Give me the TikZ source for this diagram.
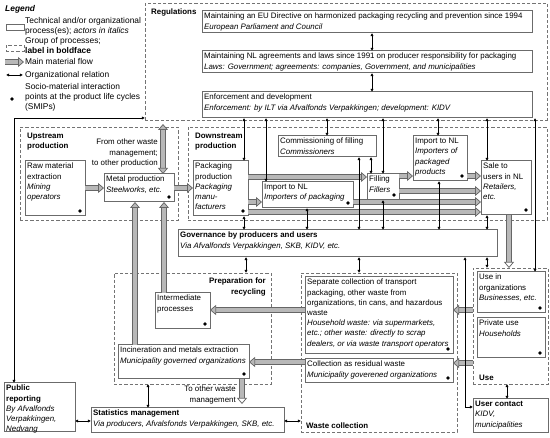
\documentclass[tikz,border=0pt]{standalone}
\usepackage{fontspec}
\setmainfont{Liberation Sans}
\usetikzlibrary{arrows.meta,calc}
\newcommand\fs{\fontsize{7.9}{10.2}\selectfont}
\newcommand\fsl{\fontsize{8.4}{10.2}\selectfont}
\tikzset{
 box/.style={draw=black!58, line width=1pt, inner sep=0pt, outer sep=0pt, fill=white},
 grp/.style={draw=black!55, line width=0.7pt, dash pattern=on 3.2pt off 2pt, inner sep=0pt, outer sep=0pt},
 txt/.style={inner xsep=2pt, inner ysep=2pt, align=left, font=\fs},
 ltxt/.style={inner xsep=2pt, inner ysep=2pt, align=left, font=\fsl},
 fattip/.tip={Triangle[length=6pt,width=10pt,fill=black!28]},
 opentip/.tip={Triangle[length=6pt,width=10pt,fill=white]},
 fat/.style={draw=black!60, line width=0.75pt, double=black!28, double distance=3.8pt, -fattip},
 orgtip/.tip={Latex[length=3.2pt,width=3.2pt]},
 org/.style={line width=0.55pt, orgtip-orgtip},
 smip/.style={fill=black}
}
\newcommand\bx[6]{\node[box,minimum width=#4,minimum height=#5,anchor=north west] (#1) at (#2,#3) {};
 \node[txt,anchor=north west] (#1-t) at (#1.north west) {#6};}
\newcommand\gp[5]{\node[grp,minimum width=#4,minimum height=#5,anchor=north west] (#1) at (#2,#3) {};}
\newcommand\dt[1]{\fill[smip] (#1.south east) ++(-5,-5) circle (1.9);}
\begin{document}
\begin{tikzpicture}[x=1pt,y=-1pt]
\useasboundingbox (0,0) rectangle (550,438);
% legend
\node[ltxt,anchor=north west,font=\fsl\bfseries\itshape] (leg) at (3,3) {Legend};
\node[box,minimum width=18,minimum height=6,anchor=north west] (legbox) at (6,25) {};
\node[ltxt,anchor=north west] (leg1) at (23,15) {Technical and/or organizational\\process(es); \textit{actors in italics}};
\node[grp,minimum width=18,minimum height=6,anchor=north west] (leggrp) at (6,45) {};
\node[ltxt,anchor=north west] (leg2) at (23,35) {Group of processes;\\\textbf{label in boldface}};
\coordinate (lfa) at (5,62); \coordinate (lfb) at (24,62);
\draw[fat] (lfa) -- (lfb);
\node[ltxt,anchor=west] (leg3) at (23,62) {Main material flow};
\coordinate (loa) at (6,75); \coordinate (lob) at (23,75);
\draw[org] (loa) -- (lob);
\node[ltxt,anchor=west] (leg4) at (23,75) {Organizational relation};
\fill[smip] (12,99) circle (1.9);
\node[ltxt,anchor=north west] (leg5) at (23,81) {Socio-material interaction\\points at the product life cycles\\(SMIPs)};
% groups
\gp{reg}{145}{3}{402}{117}
\node[txt,anchor=north west,font=\fs\bfseries] (reg-l) at (149,7) {Regulations};
\gp{up}{20}{127}{158}{93}
\node[txt,anchor=north west,font=\fs\bfseries] (up-l) at (25,131) {Upstream\\production};
\gp{down}{188}{127}{359}{93}
\node[txt,anchor=north west,font=\fs\bfseries] (down-l) at (193,131) {Downstream\\production};
\gp{prep}{114}{273}{157}{111}
\node[txt,anchor=north east,font=\fs\bfseries,align=right] (prep-l) at (268,276) {Preparation for\\recycling};
\gp{wc}{301}{273}{156}{159}
\node[txt,anchor=south west,font=\fs\bfseries] (wc-l) at (304,431) {Waste collection};
\gp{use}{473}{268}{75}{116}
\node[txt,anchor=south west,font=\fs\bfseries] (use-l) at (477,383) {Use};
% boxes
\bx{eu}{202}{11}{330}{22}{Maintaining an EU Directive on harmonized packaging recycling and prevention since 1994\\\textit{European Parliament and Council}}
\bx{nl}{202}{51}{330}{22}{Maintaining NL agreements and laws since 1991 on producer responsibility for packaging\\\textit{Laws: Government; agreements: companies, Government, and municipalities}}
\bx{enf}{202}{92}{330}{26}{Enforcement and development\\\textit{Enforcement: by ILT via Afvalfonds Verpakkingen; development: KIDV}}
\bx{raw}{25}{161}{60}{55}{Raw material\\extraction\\\textit{Mining}\\\textit{operators}}
\bx{metal}{104}{174}{70}{28}{Metal production\\\textit{Steelworks, etc.}}
\node[txt,anchor=north east,align=right] (ow-l) at (160,137) {From other waste\\management;\\to other production};
\bx{pack}{193}{161}{55}{55}{Packaging\\production\\\textit{Packaging}\\\textit{manu-}\\\textit{facturers}}
\bx{comm}{278}{136}{98}{21}{Commissioning of filling\\\textit{Commissioners}}
\bx{imppp}{413}{136}{54}{45}{Import to NL\\\textit{Importers of}\\\textit{packaged}\\\textit{products}}
\bx{imppk}{262}{182}{91}{26}{Import to NL\\\textit{Importers of packaging}}
\bx{fill}{367}{174}{32}{26}{Filling\\\textit{Fillers}}
\bx{sale}{481}{161}{50}{54}{Sale to\\users in NL\\\textit{Retailers,}\\\textit{etc.}}
\bx{gov}{178}{230}{319}{27}{\textbf{Governance by producers and users}\\\textit{Via Afvalfonds Verpakkingen, SKB, KIDV, etc.}}
\bx{inter}{155}{293}{55}{36}{Intermediate\\processes}
\bx{incin}{118}{345}{131}{34}{Incineration and metals extraction\\\textit{Municipality governed organizations}}
\node[txt,anchor=north east,align=right] (owm-l) at (238,384) {To other waste\\management};
\bx{sep}{305}{277}{148}{77}{Separate collection of transport\\packaging, other waste from\\organizations, tin cans, and hazardous\\waste\\\textit{Household waste: via supermarkets,}\\\textit{etc.; other waste: directly to scrap}\\\textit{dealers, or via waste transport operators}}
\bx{resid}{305}{359}{148}{24}{Collection as residual waste\\\textit{Municipality goverened organizations}}
\bx{useorg}{477}{272}{68}{41}{Use in\\organizations\\\textit{Businesses, etc.}}
\bx{priv}{477}{318}{68}{40}{Private use\\\textit{Households}}
\bx{uc}{473}{399}{75}{34}{\textbf{User contact}\\\textit{KIDV,}\\\textit{municipalities}}
\bx{stat}{91}{408}{193}{25}{\textbf{Statistics management}\\\textit{Via producers, Afvalsfonds Verpakkingen, SKB, etc.}}
\bx{pub}{4}{383}{71}{49}{\textbf{Public}\\\textbf{reporting}\\\textit{By Afvalfonds}\\\textit{Verpakkingen,}\\\textit{Nedvang}}
% dots
\dt{raw}\dt{metal}\dt{pack}\dt{imppp}\dt{imppk}\dt{fill}\dt{sale}\dt{inter}\dt{incin}\dt{sep}\dt{resid}\dt{useorg}\dt{priv}
% fat arrows
\coordinate (ow) at (163,124);
\coordinate (owm) at (242,404);
\draw[fat] (raw.east |- 0,188) -- (metal.west |- 0,188);
\draw[fat] (metal.east |- 0,188) -- (pack.west |- 0,188);
\draw[fat,fattip-fattip] (ow) -- (metal.north -| ow);
\draw[fat] (pack.east |- 0,177) -- (fill.west |- 0,177);
\draw[fat] (pack.east |- 0,202) -- (imppk.west |- 0,202);
\draw[fat] (pack.east |- 0,212) -- (sale.west |- 0,212);
\draw[fat] (imppk.east |- 0,202) -- (sale.west |- 0,202);
\draw[fat] (fill.east |- 0,191) -- (sale.west |- 0,191);
\draw[fat] (fill.east |- 0,176) -- (imppp.west |- 0,176);
\draw[fat] (imppp.east |- 0,176) -- (sale.west |- 0,176);
\draw[fat,-opentip] (sale.south -| 509,0) -- (use.north -| 509,0);
\draw[fat] (incin.north -| 135,0) -- (metal.south -| 135,0);
\draw[fat] (inter.north -| 164,0) -- (metal.south -| 164,0);
\draw[fat] (sep.west |- 0,310) -- (inter.east |- 0,310);
\draw[fat] (resid.west |- 0,362) -- (incin.east |- 0,362);
\draw[fat] (use.west |- 0,310) -- (sep.east |- 0,310);
\draw[fat] (use.west |- 0,363) -- (resid.east |- 0,363);
\draw[fat,-opentip] (incin.south -| owm) -- (owm);
% organizational relations
\draw[org] (eu.south -| 372,0) -- (nl.north -| 372,0);
\draw[org] (nl.south -| 372,0) -- (enf.north -| 372,0);
\draw[org] (enf.south -| 244,0) -- (pack.north -| 244,0);
\draw[org] (enf.south -| 266,0) -- (imppk.north -| 266,0);
\draw[org] (enf.south -| 327,0) -- (comm.north -| 327,0);
\draw[org] (enf.south -| 383,0) -- (fill.north -| 383,0);
\draw[org] (enf.south -| 438,0) -- (imppp.north -| 438,0);
\draw[org] (enf.south -| 487,0) -- (sale.north -| 487,0);
\draw[org] (enf.south -| 535,0) -- (useorg.north -| 535,0);
\draw[org] (comm.south -| 371,0) -- (fill.north -| 371,0);
\draw[org] (comm.south -| 359,0) -- (gov.north -| 359,0);
\draw[org] (pack.south -| 244,0) -- (gov.north -| 244,0);
\draw[org] (imppk.south -| 307,0) -- (gov.north -| 307,0);
\draw[org] (fill.south -| 383,0) -- (gov.north -| 383,0);
\draw[org] (imppp.south -| 439,0) -- (gov.north -| 439,0);
\draw[org] (sale.south -| 487,0) -- (gov.north -| 487,0);
\draw[org] (gov.south -| 246,0) -- (prep.north -| 246,0);
\draw[org] (gov.south -| 359,0) -- (wc.north -| 359,0);
\draw[org] (gov.south -| 487,0) -- (use.north -| 487,0);
\draw[org] (gov.south -| 465,0) |- (uc.west |- 0,407);
\draw[org] (pub.north -| 14,0) |- (reg.west |- 0,118);
\draw[org] (stat.east |- 0,421) -- (wc.west |- 0,421);
\draw[org] (pub.east |- 0,421) -- (stat.west |- 0,421);
\draw[org] (stat.north -| 148,0) -- (prep.south -| 148,0);
\draw[org] (use.south -| 507,0) -- (uc.north -| 507,0);
\end{tikzpicture}
\end{document}
